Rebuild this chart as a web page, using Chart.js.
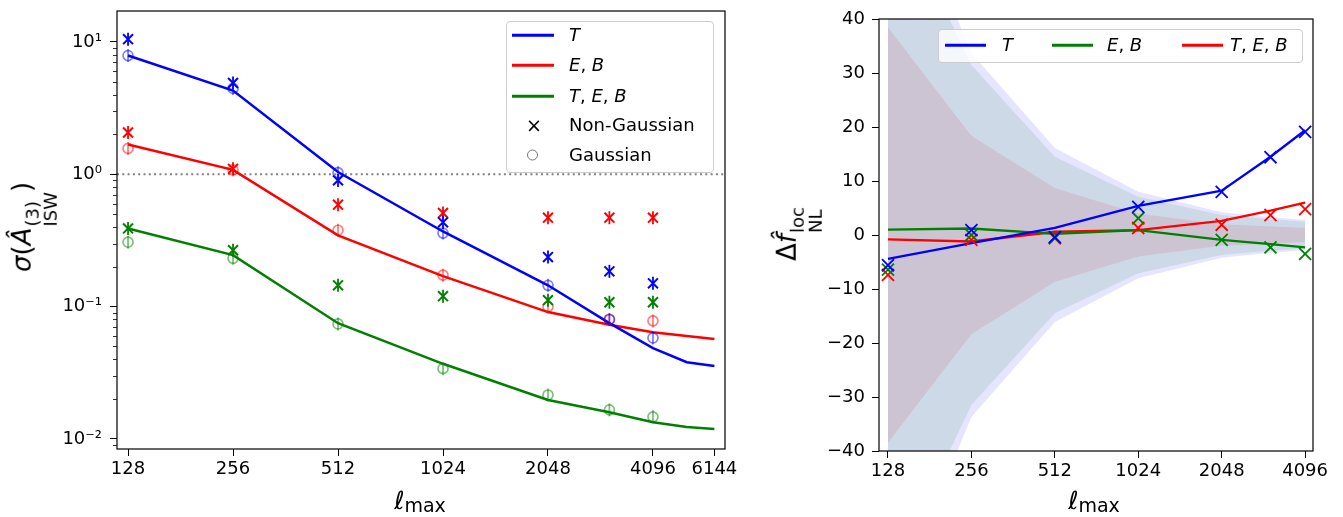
<!DOCTYPE html>
<html>
<head>
<meta charset="utf-8">
<script src="https://cdn.jsdelivr.net/npm/chart.js@4.4.0/dist/chart.umd.min.js"></script>
<style>
body { margin: 0; width: 1343px; height: 517px; background: #fff; position: relative; overflow: hidden; font-family: "DejaVu Sans", sans-serif; color: #000; }
canvas { position: absolute; top: 0; }
#left { left: 0; }
#right { left: 760px; }
.ytitle { position: absolute; transform: translate(-50%, -50%) rotate(-90deg); font-size: 26px; white-space: nowrap; line-height: 1; }
.ss { display: inline-flex; flex-direction: column; vertical-align: -0.42em; font-size: 18px; line-height: 1.0; margin-left: 1px; }
.xtitle { position: absolute; font-size: 25px; white-space: nowrap; line-height: 1; transform: translateX(-50%); }
.xtitle sub { font-size: 19px; vertical-align: -0.15em; }
.legend { position: absolute; background: rgba(255,255,255,0.8); border: 1px solid #ccc; border-radius: 4px; box-sizing: border-box; }
.item { position: absolute; font-size: 18px; line-height: 1; transform: translateY(-50%); white-space: nowrap; }
.swatch { position: absolute; height: 2.5px; transform: translateY(-50%); }
</style>
</head>
<body>
<canvas id="left" width="760" height="517"></canvas>
<canvas id="right" width="583" height="517"></canvas>

<!-- left panel texts -->
<div class="ytitle" style="left:34px; top:227px;"><i>σ</i>(<i>Â</i><span class="ss"><span>(3)</span><span>ISW</span></span>)</div>
<div class="xtitle" style="left:420px; top:488px;"><i>ℓ</i><sub>max</sub></div>
<div class="legend" style="left:506px; top:21px; width:208px; height:152px;"></div>
<div class="swatch" style="left:512px; top:35px; width:42px; background:#0000ff;"></div>
<div class="item" style="left:569px; top:35px;"><i>T</i></div>
<div class="swatch" style="left:512px; top:65px; width:42px; background:#ff0000;"></div>
<div class="item" style="left:569px; top:65px;"><i>E</i>, <i>B</i></div>
<div class="swatch" style="left:512px; top:96px; width:42px; background:#008000;"></div>
<div class="item" style="left:569px; top:96px;"><i>T</i>, <i>E</i>, <i>B</i></div>
<div class="item" style="left:526px; top:125px; font-size:19px;">×</div>
<div class="item" style="left:569px; top:125px;">Non-Gaussian</div>
<div class="item" style="left:527px; top:155px; width:9px; height:9px; border:1.5px solid #777; border-radius:50%;"></div>
<div class="item" style="left:569px; top:155px;">Gaussian</div>

<!-- right panel texts -->
<div class="ytitle" style="left:799px; top:234px;">Δ<i>f̂</i><span class="ss"><span>loc</span><span>NL</span></span></div>
<div class="xtitle" style="left:1094px; top:488px;"><i>ℓ</i><sub>max</sub></div>
<div class="legend" style="left:938px; top:29px; width:365px; height:34px;"></div>
<div class="swatch" style="left:945px; top:45px; width:41px; background:#0000ff;"></div>
<div class="item" style="left:1002px; top:45px;"><i>T</i></div>
<div class="swatch" style="left:1052px; top:45px; width:41px; background:#008000;"></div>
<div class="item" style="left:1107px; top:45px;"><i>E</i>, <i>B</i></div>
<div class="swatch" style="left:1182px; top:45px; width:41px; background:#ff0000;"></div>
<div class="item" style="left:1230px; top:45px;"><i>T</i>, <i>E</i>, <i>B</i></div>

<script>
// left panel: sigma(A_ISW) vs lmax
const LMAX = [128, 256, 512, 1024, 2048, 3072, 4096, 5120, 6144];
const LMAX_PTS = [128, 256, 512, 1024, 2048, 3072, 4096];
const sigmaT = [7.9, 4.3, 1.04, 0.37, 0.145, 0.075, 0.0486, 0.038, 0.0356];
const sigmaEB = [1.68, 1.08, 0.346, 0.17, 0.091, 0.073, 0.064, 0.060, 0.057];
const sigmaTEB = [0.39, 0.245, 0.075, 0.037, 0.0197, 0.0159, 0.0134, 0.0123, 0.0119];
const nonGaussT = [10.5, 4.9, 0.9, 0.434, 0.237, 0.185, 0.15];
const nonGaussEB = [2.07, 1.1, 0.59, 0.51, 0.47, 0.47, 0.47];
const nonGaussTEB = [0.39, 0.267, 0.145, 0.12, 0.112, 0.108, 0.108];
const gaussT = [7.9, 4.46, 1.03, 0.36, 0.145, 0.08, 0.058];
const gaussEB = [1.57, 1.08, 0.378, 0.173, 0.1, 0.08, 0.078];
const gaussTEB = [0.307, 0.232, 0.074, 0.034, 0.0215, 0.0166, 0.0147];
const LEFT_XTICKS = [128, 256, 512, 1024, 2048, 4096, 6144];
const LEFT_YTICKS = [0.01, 0.1, 1, 10];
const LEFT_YLABELS = ['10⁻²', '10⁻¹', '10⁰', '10¹'];

// right panel: delta fNL vs lmax
const LMAX_R = [128, 256, 512, 1024, 2048, 3072, 4096];
const RIGHT_XTICKS = [128, 256, 512, 1024, 2048, 4096];
const dfT = [-4.4, -1.5, 1.3, 5.4, 8.2, 14.5, 19.4];
const dfEB = [1.0, 1.2, 0.2, 0.9, -0.9, -1.7, -2.3];
const dfTEB = [-0.8, -1.2, 0.6, 0.9, 2.6, 4.5, 6.0];
const simT = [-5.6, 0.9, -0.4, 5.2, 8.0, 14.4, 19.1];
const simEB = [-6.4, 0.0, -0.5, 3.1, -0.9, -2.3, -3.5];
const simTEB = [-7.4, -0.9, -0.6, 1.3, 1.9, 3.7, 4.8];
const errT = [71, 33.7, 16.1, 8.0, 4.2, 3.3, 2.8];
const errEB = [64, 31.5, 14.5, 7.1, 3.7, 2.9, 2.5];
const errTEB = [38.5, 18.4, 8.7, 4.0, 2.0, 1.6, 1.3];

const FONT = { family: '"DejaVu Sans", sans-serif', size: 18 };
const pts = (xs, ys) => ys.map((y, i) => ({ x: xs[i], y: y }));

const frame = {
  id: 'frame',
  afterDraw(chart) {
    const a = chart.chartArea, ctx = chart.ctx;
    ctx.save();
    ctx.strokeStyle = '#000';
    ctx.lineWidth = 1.2;
    ctx.strokeRect(a.left, a.top, a.right - a.left, a.bottom - a.top);
    ctx.restore();
  }
};

// log minor ticks on the left y axis
const minorTicks = {
  id: 'minorTicks',
  afterDraw(chart) {
    const s = chart.scales.y;
    if (s.type !== 'logarithmic') return;
    const ctx = chart.ctx;
    ctx.save();
    ctx.strokeStyle = '#000';
    ctx.lineWidth = 0.8;
    for (let e = -3; e <= 1; e++) {
      for (let m = 2; m <= 9; m++) {
        const v = m * Math.pow(10, e);
        if (v < s.min || v > s.max) continue;
        const y = Math.round(s.getPixelForValue(v)) + 0.5;
        ctx.beginPath();
        ctx.moveTo(s.right - 4, y);
        ctx.lineTo(s.right, y);
        ctx.stroke();
      }
    }
    ctx.restore();
  }
};

function lineSet(xs, ys, color) {
  return { data: pts(xs, ys), borderColor: color, borderWidth: 2.5, pointRadius: 0, tension: 0, fill: false, order: 1 };
}
function markerSet(xs, ys, color, style, r, bw) {
  return { data: pts(xs, ys), showLine: false, pointStyle: style, pointRadius: r, pointBorderWidth: bw,
    pointBorderColor: color, pointBackgroundColor: 'transparent', borderColor: color, order: 0 };
}
function errSet(xs, ys, color) {
  return { data: pts(xs, ys), showLine: false, pointStyle: 'line', pointRotation: 90, pointRadius: 6.5,
    pointBorderWidth: 1.8, pointBorderColor: color, borderColor: color, order: 0 };
}

const tickGrid = { display: true, drawOnChartArea: false, drawTicks: true, tickLength: 7, color: '#000', lineWidth: 1 };
const noPad = s => { s.paddingTop = 0; s.paddingBottom = 0; };

new Chart(document.getElementById('left'), {
  type: 'line',
  data: {
    datasets: [
      { data: [{ x: 119, y: 1 }, { x: 6590, y: 1 }], borderColor: '#808080', borderWidth: 2, borderDash: [2, 3.3],
        pointRadius: 0, order: 2 },
      lineSet(LMAX, sigmaT, '#0000ff'),
      lineSet(LMAX, sigmaEB, '#ff0000'),
      lineSet(LMAX, sigmaTEB, '#008000'),
      errSet(LMAX_PTS, nonGaussT, '#0000ff'),
      errSet(LMAX_PTS, nonGaussEB, '#ff0000'),
      errSet(LMAX_PTS, nonGaussTEB, '#008000'),
      markerSet(LMAX_PTS, nonGaussT, '#0000ff', 'crossRot', 7, 2),
      markerSet(LMAX_PTS, nonGaussEB, '#ff0000', 'crossRot', 7, 2),
      markerSet(LMAX_PTS, nonGaussTEB, '#008000', 'crossRot', 7, 2),
      errSet(LMAX_PTS, gaussT, 'rgba(0,0,255,0.5)'),
      errSet(LMAX_PTS, gaussEB, 'rgba(255,0,0,0.5)'),
      errSet(LMAX_PTS, gaussTEB, 'rgba(0,128,0,0.5)'),
      markerSet(LMAX_PTS, gaussT, 'rgba(0,0,255,0.5)', 'circle', 5, 1.7),
      markerSet(LMAX_PTS, gaussEB, 'rgba(255,0,0,0.5)', 'circle', 5, 1.7),
      markerSet(LMAX_PTS, gaussTEB, 'rgba(0,128,0,0.5)', 'circle', 5, 1.7)
    ]
  },
  options: {
    responsive: false,
    animation: false,
    layout: { padding: { top: 11, right: 35, left: 0, bottom: 0 } },
    plugins: { legend: { display: false }, tooltip: { enabled: false } },
    scales: {
      x: {
        type: 'logarithmic', min: 119, max: 6590, bounds: 'data',
        border: { display: false },
        grid: tickGrid,
        afterBuildTicks: s => { s.ticks = LEFT_XTICKS.map(v => ({ value: v })); },
        afterFit: s => { s.height = 68; },
        ticks: { font: FONT, color: '#000', padding: 3, autoSkip: false, maxRotation: 0, callback: v => String(v) }
      },
      y: {
        type: 'logarithmic', min: 0.0084, max: 17.15, bounds: 'data',
        border: { display: false },
        grid: tickGrid,
        afterBuildTicks: s => { s.ticks = LEFT_YTICKS.map(v => ({ value: v })); },
        afterFit: s => { s.width = 117; noPad(s); },
        ticks: { font: FONT, color: '#000', padding: 8, autoSkip: false,
          callback: v => LEFT_YLABELS[LEFT_YTICKS.findIndex(t => Math.abs(t - v) / t < 1e-6)] }
      }
    }
  },
  plugins: [frame, minorTicks]
});

function bandSets(err, color) {
  return [
    { data: pts(LMAX_R, err), fill: '+1', backgroundColor: color, borderColor: 'transparent', borderWidth: 0,
      pointRadius: 0, tension: 0, order: 5 },
    { data: pts(LMAX_R, err.map(v => -v)), fill: false, borderColor: 'transparent', borderWidth: 0,
      pointRadius: 0, tension: 0, order: 5 }
  ];
}
function rLine(ys, color) {
  return { data: pts(LMAX_R, ys), borderColor: color, borderWidth: 2.3, pointRadius: 0, tension: 0, fill: false, order: 1 };
}
function rMarker(ys, color) {
  return { data: pts(LMAX_R, ys), showLine: false, pointStyle: 'crossRot', pointRadius: 8.5, pointBorderWidth: 1.8,
    pointBorderColor: color, pointBackgroundColor: 'transparent', borderColor: color, order: 0 };
}

new Chart(document.getElementById('right'), {
  type: 'line',
  data: {
    datasets: [
      ...bandSets(errT, 'rgba(0,0,255,0.1)'),
      ...bandSets(errEB, 'rgba(0,128,0,0.1)'),
      ...bandSets(errTEB, 'rgba(255,0,0,0.1)'),
      rLine(dfT, '#0000ff'),
      rLine(dfEB, '#008000'),
      rLine(dfTEB, '#ff0000'),
      rMarker(simT, '#0000ff'),
      rMarker(simEB, '#008000'),
      rMarker(simTEB, '#ff0000')
    ]
  },
  options: {
    responsive: false,
    animation: false,
    layout: { padding: { top: 19, right: 30, left: 0, bottom: 0 } },
    plugins: { legend: { display: false }, tooltip: { enabled: false }, filler: { propagate: false } },
    scales: {
      x: {
        type: 'logarithmic', min: 118.8, max: 4373, bounds: 'data',
        border: { display: false },
        grid: tickGrid,
        afterBuildTicks: s => { s.ticks = RIGHT_XTICKS.map(v => ({ value: v })); },
        afterFit: s => { s.height = 66; },
        ticks: { font: FONT, color: '#000', padding: 3, autoSkip: false, maxRotation: 0, callback: v => String(v) }
      },
      y: {
        type: 'linear', min: -40, max: 40,
        border: { display: false },
        grid: tickGrid,
        afterFit: s => { s.width = 119; noPad(s); },
        ticks: { font: FONT, color: '#000', padding: 7, stepSize: 10,
          callback: v => (v < 0 ? '\u2212' + Math.abs(v) : String(v)) }
      }
    }
  },
  plugins: [frame]
});
</script>
</body>
</html>
